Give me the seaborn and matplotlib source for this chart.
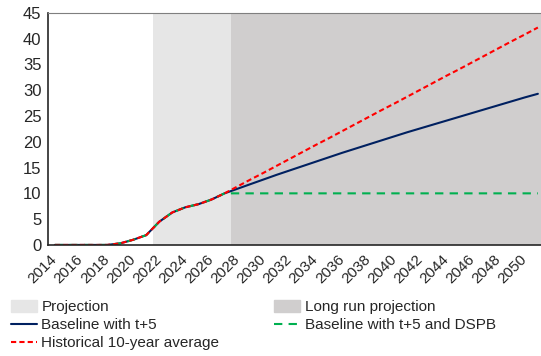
import matplotlib
matplotlib.use('Agg')
import matplotlib.pyplot as plt
import matplotlib.patches as mpatches
from matplotlib.lines import Line2D
from matplotlib.ticker import MultipleLocator, FixedLocator
import seaborn as sns
import pandas as pd

years = list(range(2014, 2052))
hist = [0, 0, 0, 0, 0, 0.3, 1.0, 1.9, 4.5, 6.3, 7.3, 7.9, 8.8, 10.0]
baseline = hist + [10.9, 11.8, 12.7, 13.6, 14.45, 15.3, 16.15, 17.0, 17.85, 18.65,
                   19.45, 20.25, 21.05, 21.85, 22.6, 23.35, 24.1, 24.85, 25.6,
                   26.35, 27.1, 27.85, 28.6, 29.3]
dspb = hist + [10.0] * 24
hist_avg = hist + [11.35, 12.7, 14.0, 15.35, 16.7, 18.05, 19.4, 20.7, 22.05, 23.4,
                   24.75, 26.1, 27.4, 28.75, 30.1, 31.45, 32.8, 34.1, 35.45,
                   36.8, 38.15, 39.5, 40.8, 42.15]
proj_start, longrun_start = 2022, 2028

df = pd.DataFrame({'year': years, 'baseline': baseline, 'dspb': dspb, 'hist': hist_avg})

sns.set_style('white')
plt.rcParams['font.family'] = ['Liberation Sans', 'DejaVu Sans']

fig = plt.figure(figsize=(5.41, 3.56), dpi=100)
# plot area runs slightly past the right edge of the picture, like the original crop
ax = fig.add_axes([0.0893, 0.312, 0.917, 0.652])

light, dark = '#e6e6e6', '#d0cece'
ax.axvspan(proj_start - 0.5, longrun_start - 0.5, color=light, lw=0, zorder=0)
ax.axvspan(longrun_start - 0.5, years[-1] + 0.5, color=dark, lw=0, zorder=0)

sns.lineplot(data=df, x='year', y='baseline', ax=ax, color='#002060', lw=1.5)
sns.lineplot(data=df, x='year', y='dspb', ax=ax, color='#00b050', lw=1.5,
             linestyle=(0, (4, 3)))
sns.lineplot(data=df, x='year', y='hist', ax=ax, color='#ff0000', lw=1.5,
             linestyle=(0, (2.5, 1.5)))

ax.set_xlim(years[0] - 0.5, years[-1] + 0.5)
ax.set_ylim(0, 45)
ax.yaxis.set_major_locator(MultipleLocator(5))
ax.set_xticks(years[::2])
ax.set_xticklabels([str(y) for y in years[::2]], rotation=45, ha='right',
                   va='center', rotation_mode='anchor')
ax.xaxis.set_minor_locator(FixedLocator([y - 0.5 for y in years] + [years[-1] + 0.5]))
ax.tick_params(axis='x', which='major', length=0, pad=9, labelsize=11)
ax.tick_params(axis='x', which='minor', direction='in', length=4, width=0.8, color='#404040')
ax.tick_params(axis='y', length=0, labelsize=12, pad=5)
ax.set_xlabel('')
ax.set_ylabel('')

for s in ['left', 'bottom']:
    ax.spines[s].set_color('#262626')
    ax.spines[s].set_linewidth(1.2)
ax.spines['top'].set_color('#7f7f7f')
ax.spines['right'].set_visible(False)

handles = [
    mpatches.Patch(color=light, label='Projection'),
    Line2D([], [], color='#002060', lw=1.5, label='Baseline with t+5'),
    Line2D([], [], color='#ff0000', lw=1.5, linestyle=(0, (2.5, 1.5)),
           label='Historical 10-year average'),
    mpatches.Patch(color=dark, label='Long run projection'),
    Line2D([], [], color='#00b050', lw=1.5, linestyle=(0, (4, 3)),
           label='Baseline with t+5 and DSPB'),
]
fig.legend(handles=handles, loc='upper left', bbox_to_anchor=(0.02, 0.157), ncol=2,
           frameon=False, fontsize=11, handlelength=1.7, handleheight=0.8,
           handletextpad=0.3, labelspacing=0.25, columnspacing=3.6,
           borderaxespad=0, borderpad=0)

fig.savefig('out.png', dpi=100)
